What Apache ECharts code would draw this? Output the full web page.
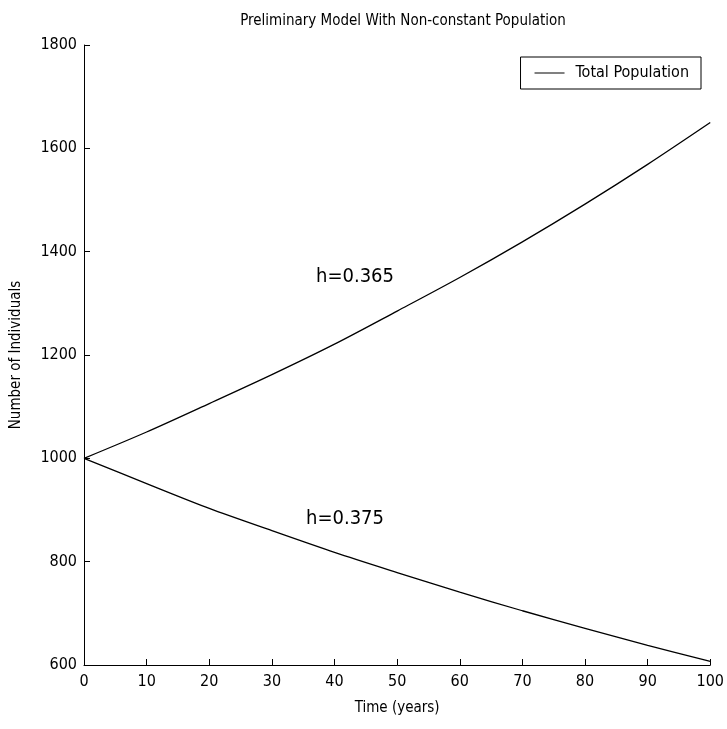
<!DOCTYPE html>
<html>
<head>
<meta charset="utf-8">
<script src="https://cdn.jsdelivr.net/npm/echarts@6/dist/echarts.min.js"></script>
<style>
  html, body { margin: 0; padding: 0; background: #fff; }
  #chart { width: 727px; height: 729px; }
</style>
</head>
<body>
<div id="chart"></div>
<script>
const FONT = '"Liberation Sans Narrow", "DejaVu Sans Condensed", "Liberation Sans", sans-serif'

// time in years
const years = [0, 10, 20, 30, 40, 50, 60, 70, 80, 90, 100]
// h = 0.365 (growing)
const popLowH = [1000, 1051, 1106, 1162, 1221, 1285, 1350, 1419, 1492, 1569, 1650]
// h = 0.375 (declining)
const popHighH = [1000, 951, 903, 860, 818, 779, 741, 705, 671, 638, 607]
const yTicks = [600, 800, 1000, 1200, 1400, 1600, 1800]

const chart = echarts.init(document.getElementById('chart'))

const lineStyle = { color: '#000', width: 1.3 }

chart.setOption({
  animation: false,
  backgroundColor: '#fff',
  title: {
    text: 'Preliminary Model With Non-constant Population',
    left: 398,
    textAlign: 'center',
    top: 9,
    textStyle: { fontFamily: FONT, fontSize: 15, fontWeight: 'normal', color: '#000' }
  },
  legend: {
    right: 26,
    top: 57,
    data: ['Total Population'],
    icon: 'path://M0,0 L30,0 L30,1 L0,1 Z',
    itemWidth: 30,
    itemHeight: 2,
    itemGap: 0,
    padding: [8, 12, 8, 14],
    borderColor: '#000',
    borderWidth: 1,
    borderRadius: 0,
    itemStyle: { color: '#000' },
    textStyle: { fontFamily: FONT, fontSize: 16, color: '#000', padding: [0, 0, 0, 6] }
  },
  grid: { left: 84, right: 15, top: 45, bottom: 64 },
  xAxis: {
    type: 'value',
    min: 0,
    max: 100,
    interval: 10,
    name: 'Time (years)',
    nameLocation: 'middle',
    nameGap: 36,
    nameTextStyle: { fontFamily: FONT, fontSize: 15, color: '#000' },
    axisLine: { lineStyle: { color: '#000', width: 1 } },
    axisTick: { inside: true, length: 6, lineStyle: { color: '#000' } },
    axisLabel: { fontFamily: FONT, fontSize: 16, color: '#000', margin: 9 },
    splitLine: { show: false }
  },
  yAxis: {
    type: 'value',
    min: yTicks[0],
    max: yTicks[yTicks.length - 1],
    interval: 200,
    name: 'Number of Individuals',
    nameLocation: 'middle',
    nameGap: 60,
    nameTextStyle: { fontFamily: FONT, fontSize: 15, color: '#000' },
    axisLine: { show: true, lineStyle: { color: '#000', width: 1 } },
    axisTick: { show: true, inside: true, length: 6, lineStyle: { color: '#000' } },
    axisLabel: { fontFamily: FONT, fontSize: 16, color: '#000', margin: 7, formatter: v => String(v) },
    splitLine: { show: false }
  },
  graphic: [
    {
      type: 'text', left: 316, top: 267,
      style: { text: 'h=0.365', font: '20px ' + FONT, fill: '#000' }
    },
    {
      type: 'text', left: 306, top: 509,
      style: { text: 'h=0.375', font: '20px ' + FONT, fill: '#000' }
    }
  ],
  series: [
    {
      name: 'Total Population',
      type: 'line',
      showSymbol: false,
      symbol: 'none',
      smooth: 0.3,
      data: years.map((t, i) => [t, popLowH[i]]),
      lineStyle
    },
    {
      name: 'Total Population',
      type: 'line',
      showSymbol: false,
      symbol: 'none',
      smooth: 0.3,
      data: years.map((t, i) => [t, popHighH[i]]),
      lineStyle
    }
  ]
})
</script>
</body>
</html>
